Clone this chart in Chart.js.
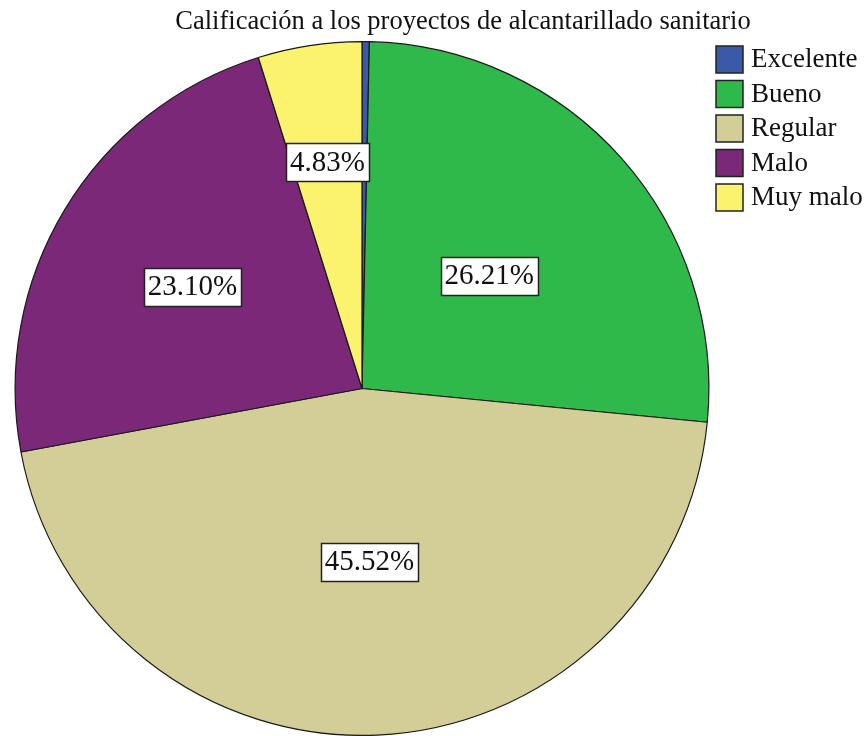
<!DOCTYPE html>
<html>
<head>
<meta charset="utf-8">
<script src="https://cdn.jsdelivr.net/npm/chart.js@4/dist/chart.umd.min.js"></script>
<style>
  html, body { margin: 0; padding: 0; background: #fff; }
  #wrap { width: 865px; height: 736px; position: relative; }
</style>
</head>
<body>
<div id="wrap"><canvas id="pie" width="865" height="736"></canvas></div>
<script>
const chartTitle = 'Calificación a los proyectos de alcantarillado sanitario';
const categories = ['Excelente', 'Bueno', 'Regular', 'Malo', 'Muy malo'];
const percents = [0.34, 26.21, 45.52, 23.10, 4.83];
const sliceColors = ['#3a59a8', '#30b94b', '#d3ce97', '#7b2878', '#fbf36e'];

// how far out (fraction of radius) each value box sits; null = no box
const labelOffsets = [null, 0.49, 0.5, 0.57, 0.66];
const serif = '"Liberation Serif", "DejaVu Serif", serif';

const overlay = {
  id: 'overlay',
  afterDraw(chart) {
    const ctx = chart.ctx;
    ctx.save();

    // title
    ctx.fillStyle = '#111';
    ctx.font = '26.5px ' + serif;
    ctx.textAlign = 'center';
    ctx.textBaseline = 'middle';
    ctx.fillText(chartTitle, 463, 22);

    // value boxes
    const arcs = chart.getDatasetMeta(0).data;
    ctx.font = '29px ' + serif;
    arcs.forEach((arc, i) => {
      if (labelOffsets[i] == null) return;
      const mid = (arc.startAngle + arc.endAngle) / 2;
      const r = arc.outerRadius * labelOffsets[i];
      const x = arc.x + Math.cos(mid) * r;
      const y = arc.y + Math.sin(mid) * r;
      const txt = percents[i].toFixed(2) + '%';
      const w = Math.round(ctx.measureText(txt).width + 8);
      const h = 38;
      const bx = Math.round(x - w / 2), by = Math.round(y - h / 2);
      ctx.fillStyle = '#fff';
      ctx.fillRect(bx, by, w, h);
      ctx.strokeStyle = '#222';
      ctx.lineWidth = 1.5;
      ctx.strokeRect(bx + 0.5, by + 0.5, w, h);
      ctx.fillStyle = '#111';
      ctx.fillText(txt, x, y + 1);
    });

    // legend
    ctx.textAlign = 'left';
    ctx.font = '27px ' + serif;
    categories.forEach((name, i) => {
      const y = 46 + i * 34.5;
      ctx.fillStyle = sliceColors[i];
      ctx.fillRect(716, y, 27, 27);
      ctx.strokeStyle = '#222';
      ctx.lineWidth = 1.5;
      ctx.strokeRect(716, y, 27, 27);
      ctx.fillStyle = '#111';
      ctx.fillText(name, 751, y + 14);
    });

    ctx.restore();
  }
};

new Chart(document.getElementById('pie'), {
  type: 'pie',
  data: {
    labels: categories,
    datasets: [{
      data: percents,
      backgroundColor: sliceColors,
      borderColor: '#1a1a1a',
      borderWidth: 1.2,
    }],
  },
  options: {
    responsive: false,
    animation: false,
    layout: { padding: { top: 41, bottom: 0, left: 14, right: 155 } },
    plugins: {
      legend: { display: false },
      title: { display: false },
      tooltip: { enabled: false },
    },
  },
  plugins: [overlay],
});
</script>
</body>
</html>
